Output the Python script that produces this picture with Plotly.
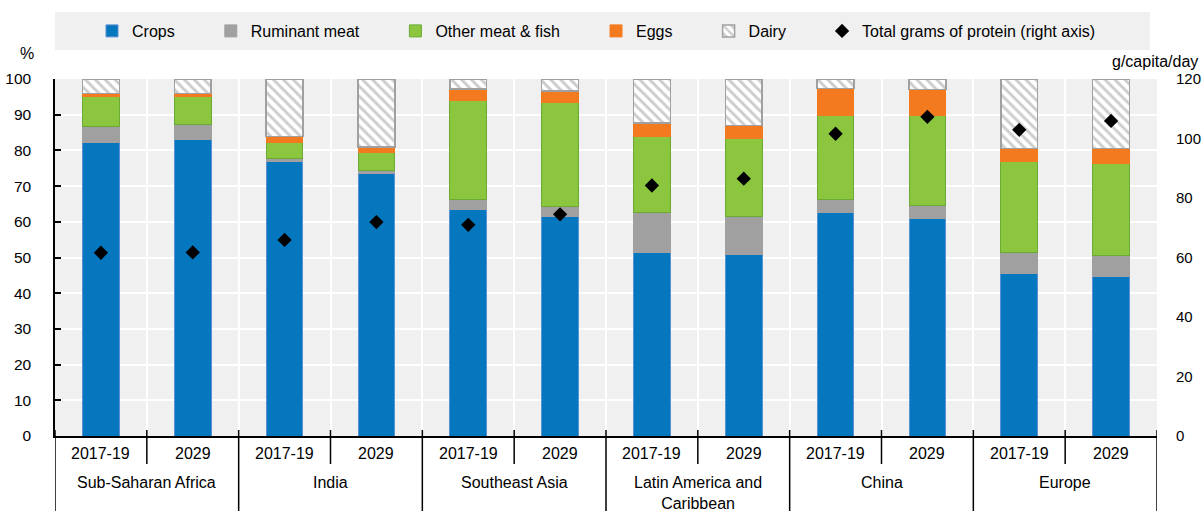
import plotly.graph_objects as go

# ---------------- data ----------------
regions = ["Sub-Saharan Africa", "India", "Southeast Asia",
           "Latin America and<br>Caribbean", "China", "Europe"]
periods = ["2017-19", "2029"]

crops = [82.3, 83.1, 77.0, 73.6, 63.5, 61.5, 51.4, 50.9, 62.5, 60.8, 45.4, 44.8]
ruminant = [4.5, 4.1, 0.7, 0.7, 2.8, 2.8, 11.2, 10.7, 3.7, 3.7, 6.1, 5.7]
other_meat = [8.2, 7.8, 4.6, 5.1, 27.8, 29.0, 21.3, 21.7, 23.7, 25.4, 25.4, 25.9]
eggs = [0.9, 0.9, 1.6, 1.5, 3.1, 3.4, 3.8, 3.7, 7.4, 7.2, 3.7, 4.1]
dairy = [4.1, 4.1, 16.1, 19.1, 2.8, 3.3, 12.3, 13.0, 2.7, 2.9, 19.4, 19.5]
protein_g = [61.6, 61.7, 65.9, 71.9, 71.0, 74.5, 84.2, 86.5, 101.6, 107.3, 102.9, 105.9]

left_ticks = list(range(0, 101, 10))
right_ticks = list(range(0, 121, 20))

# ---------------- layout constants ----------------
W, H = 1203, 511
ML, MR, MT, MB = 55, 46, 79, 75
PW, PH = W - ML - MR, H - MT - MB
FONT = "Liberation Sans, Arial, sans-serif"
NB = "\u00a0" * 7

n = len(regions) * len(periods)
xs = list(range(n))

def py(px):  # pixel y (from top) -> paper y
    return 1 - (px - MT) / PH

def pxx(px):  # pixel x -> paper x
    return (px - ML) / PW

fig = go.Figure()

series = [
    ("Crops", crops, "#0577BE", "#5b8fd6"),
    ("Ruminant meat", ruminant, "#A0A0A0", "#A0A0A0"),
    ("Other meat & fish", other_meat, "#8CC63F", "#6BAA35"),
    ("Eggs", eggs, "#F47A20", "#F47A20"),
]
for name, vals, col, lcol in series:
    fig.add_trace(go.Bar(
        x=xs, y=vals, name=name + NB, width=0.4,
        marker=dict(color=col, line=dict(color=lcol, width=1)),
    ))

fig.add_trace(go.Bar(
    x=xs, y=dairy, name="Dairy" + NB, width=0.4,
    marker=dict(color="white", line=dict(color="#A0A0A0", width=1.5),
                pattern=dict(shape="\\", fgcolor="#9A9A9A", bgcolor="white",
                             size=7, solidity=0.42)),
))

fig.add_trace(go.Scatter(
    x=xs, y=protein_g, yaxis="y2", mode="markers",
    name="Total grams of protein (right axis)",
    marker=dict(symbol="diamond", color="black", size=11),
))

# ---------------- axes ----------------
fig.update_layout(
    width=W, height=H,
    margin=dict(l=ML, r=MR, t=MT, b=MB, pad=0, autoexpand=False),
    barmode="stack",
    plot_bgcolor="#F0F0F0", paper_bgcolor="white",
    font=dict(family=FONT, size=16, color="black"),
    xaxis=dict(range=[-0.5, n - 0.5], tick0=0.5, dtick=1, showgrid=True,
               gridcolor="white", gridwidth=2, showticklabels=False,
               zeroline=False, showline=True, linecolor="black", linewidth=1.5,
               ticks="", automargin=False),
    yaxis=dict(range=[0, 100], tickvals=left_ticks, showgrid=True,
               gridcolor="white", gridwidth=2, zeroline=False,
               showline=True, linecolor="black", linewidth=1.5,
               ticks="inside", ticklen=6, tickwidth=1.5, tickcolor="black",
               ticklabelstandoff=19, tickfont=dict(size=15.5), automargin=False),
    yaxis2=dict(range=[0, 120], tickvals=right_ticks, overlaying="y",
                side="right", showgrid=False, zeroline=False, showline=False,
                ticks="", ticklabelstandoff=18, tickfont=dict(size=15),
                automargin=False),
    showlegend=True,
    legend=dict(orientation="h", x=pxx(92), xanchor="left",
                y=py(31), yanchor="middle", bgcolor="rgba(0,0,0,0)",
                font=dict(size=16), traceorder="normal"),
)

# legend band
fig.add_shape(type="rect", xref="paper", yref="paper",
              x0=pxx(55), x1=pxx(1150), y0=py(50), y1=py(12),
              fillcolor="#F0F0F0", line=dict(width=0), layer="below")

# axis unit labels
fig.add_annotation(text="%", xref="paper", yref="paper", x=pxx(27), y=py(53),
                   showarrow=False, xanchor="center", yanchor="middle",
                   font=dict(size=16))
fig.add_annotation(text="g/capita/day", xref="paper", yref="paper",
                   x=pxx(1200), y=py(62), showarrow=False, xanchor="right",
                   yanchor="middle", font=dict(size=16))

# category labels + separators
for i, x in enumerate(xs):
    fig.add_annotation(text=periods[i % len(periods)], x=x, xref="x",
                       y=py(453), yref="paper", showarrow=False,
                       yanchor="middle", font=dict(size=16))
for g, reg in enumerate(regions):
    center = g * len(periods) + (len(periods) - 1) / 2
    fig.add_annotation(text=reg, x=center, xref="x", y=py(472), yref="paper",
                       showarrow=False, yanchor="top", font=dict(size=16))
    for k in range(1, len(periods)):
        xb = g * len(periods) + k - 0.5
        fig.add_shape(type="line", xref="x", yref="paper", x0=xb, x1=xb,
                      y0=py(430), y1=py(464), line=dict(color="black", width=1.5))
for g in range(len(regions) + 1):
    xb = g * len(periods) - 0.5
    fig.add_shape(type="line", xref="x", yref="paper", x0=xb, x1=xb,
                  y0=py(430), y1=py(511), line=dict(color="black", width=1.5))

fig.write_html(
    "out.html",
    config={"displayModeBar": False},
    post_script="document.body.style.margin='0';document.body.style.padding='0';"
                "document.documentElement.style.overflow='hidden';",
)
